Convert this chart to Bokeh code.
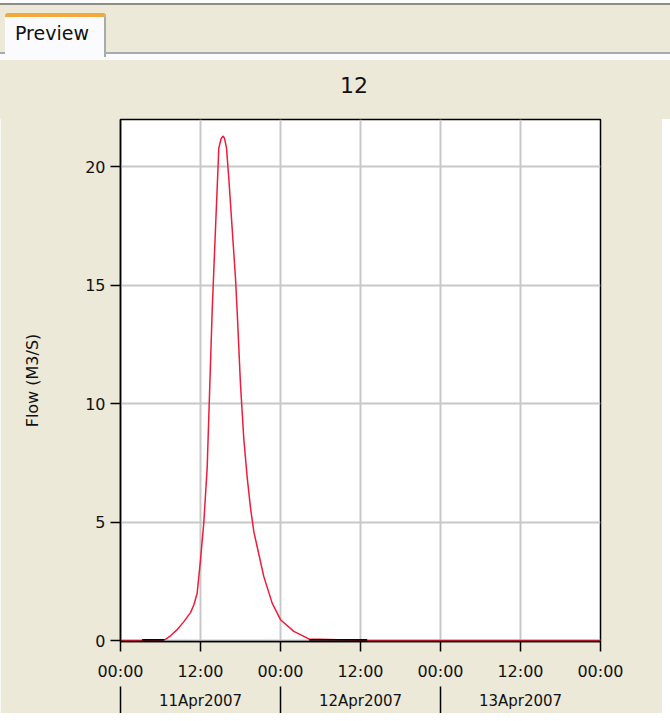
from bokeh.plotting import figure
from bokeh.models import FixedTicker, LinearAxis, Range1d, Div
from bokeh.layouts import column
from bokeh.embed import file_html
from bokeh.resources import INLINE

# ---- data (hours since 11Apr2007 00:00) ----
red_hours = [0, 3.25, 6.0, 6.75, 7.5, 8.5, 9.5, 10.5, 11.0, 11.5, 12.0, 12.5, 13.0,
             13.75, 14.25, 14.5, 14.75, 15.1, 15.4, 15.6, 15.9, 16.25, 16.75, 17.25,
             17.5, 18.0, 18.5, 19.0, 19.5, 20.0, 20.5, 21.5, 22.75, 24.0, 26.0, 28.25,
             37.0, 72.0]
red_flow = [0, 0.0, 0.02, 0.05, 0.2, 0.46, 0.8, 1.18, 1.5, 2.0, 3.4, 5.0, 7.3,
            13.9, 17.4, 19.1, 20.8, 21.2, 21.3, 21.2, 20.8, 19.5, 17.4, 15.3,
            13.9, 10.8, 8.5, 6.9, 5.6, 4.6, 3.96, 2.7, 1.58, 0.88, 0.39, 0.07,
            0.0, 0.0]

black_hours = [3.25, 6.6, float("nan"), 28.3, 37.0]
black_flow = [0.03, 0.03, float("nan"), 0.03, 0.03]

time_ticks = [0, 12, 24, 36, 48, 60, 72]
time_labels = ["00:00", "12:00", "00:00", "12:00", "00:00", "12:00", "00:00"]
day_ticks = [12, 36, 60]
day_labels = ["11Apr2007", "12Apr2007", "13Apr2007"]
day_bounds = [0, 24, 48]
y_ticks = [0, 5, 10, 15, 20]

title_text = "12"
y_label = "Flow (M3/S)"
tab_label = "Preview"

BEIGE = "#ece9d8"
FONT = "DejaVu Sans"

# ---- header: tab strip + chart title ----
tab_html = f"""
<div style="position:relative;width:662px;height:100px;overflow:visible;font-family:'{FONT}';">
  <div style="position:absolute;left:-8px;top:-8px;width:690px;height:122px;background:{BEIGE};"></div>
  <div style="position:absolute;left:-8px;top:-8px;width:690px;height:6px;background:#fcfcfc;"></div>
  <div style="position:absolute;left:-8px;top:-2px;width:690px;height:2px;background:#8c8c84;"></div>
  <div style="position:absolute;left:-8px;top:47px;width:690px;height:2px;background:#a4acac;"></div>
  <div style="position:absolute;left:-8px;top:49px;width:690px;height:6px;background:#fbfbfd;"></div>
  <div style="position:absolute;left:0;top:8px;width:101px;height:44px;background:#fbfbfd;
              border-top:4px solid #f2a83a;border-right:2px solid #a4acac;border-radius:3px 3px 0 0;
              box-sizing:border-box;"></div>
  <div style="position:absolute;left:10px;top:17px;font-size:19px;color:#111;line-height:22px;">{tab_label}</div>
  <div style="position:absolute;left:0;top:68px;width:698px;text-align:center;font-size:22px;
              line-height:26px;color:#111;">{title_text}</div>
</div>
"""
header = Div(text=tab_html, width=662, height=100)

# ---- figure ----
p = figure(title=None, frame_width=480, frame_height=522,
           min_border_left=120, min_border_right=62, min_border_top=9, min_border_bottom=72,
           x_range=Range1d(0, 72), y_range=Range1d(-0.04, 22),
           output_backend="svg", toolbar_location=None,
           background_fill_color="white", border_fill_color=BEIGE)

p.outline_line_color = "black"
p.outline_line_width = 1.5

p.xgrid.grid_line_color = "#c8c8c8"
p.ygrid.grid_line_color = "#c8c8c8"
p.xgrid.grid_line_width = 2
p.ygrid.grid_line_width = 2

# x main axis
xa = p.xaxis[0]
xa.ticker = FixedTicker(ticks=time_ticks, minor_ticks=[])
xa.major_label_overrides = {t: l for t, l in zip(time_ticks, time_labels)}
xa.major_label_text_font = FONT
xa.major_label_text_font_size = "16px"
xa.major_label_text_color = "#111111"
xa.major_tick_in = 0
xa.major_tick_out = 10
xa.major_tick_line_width = 1.5
xa.major_tick_line_color = "black"
xa.minor_tick_line_color = None
xa.axis_line_color = "black"
xa.axis_line_width = 1.5
xa.major_label_standoff = 10

# day axis: labels at noon, separators (minor ticks) at day boundaries
da = LinearAxis(ticker=FixedTicker(ticks=day_ticks, minor_ticks=day_bounds))
da.major_label_overrides = {t: l for t, l in zip(day_ticks, day_labels)}
da.major_label_text_font = FONT
da.major_label_text_font_size = "15px"
da.major_label_text_color = "#111111"
da.major_tick_in = 0
da.major_tick_out = 0
da.major_tick_line_color = None
da.minor_tick_in = -31
da.minor_tick_out = 3
da.minor_tick_line_color = "black"
da.minor_tick_line_width = 1.5
da.axis_line_color = None
da.major_label_standoff = 5
p.add_layout(da, "below")

# y axis
ya = p.yaxis[0]
ya.ticker = FixedTicker(ticks=y_ticks, minor_ticks=[])
ya.major_label_text_font = FONT
ya.major_label_text_font_size = "16px"
ya.major_label_text_color = "#111111"
ya.major_tick_in = 0
ya.major_tick_out = 10
ya.major_tick_line_width = 1.5
ya.major_tick_line_color = "black"
ya.minor_tick_line_color = None
ya.axis_line_color = "black"
ya.axis_line_width = 1.5
ya.axis_label = y_label
ya.axis_label_text_font = FONT
ya.axis_label_text_font_size = "16px"
ya.axis_label_text_font_style = "normal"
ya.axis_label_text_color = "#111111"
ya.axis_label_standoff = 40

p.line(red_hours, red_flow, line_color="#ee1c3c", line_width=1.5)
p.line(black_hours, black_flow, line_color="#220000", line_width=1.8)

layout = column(header, p)
open("out.html", "w").write(file_html(layout, INLINE))
